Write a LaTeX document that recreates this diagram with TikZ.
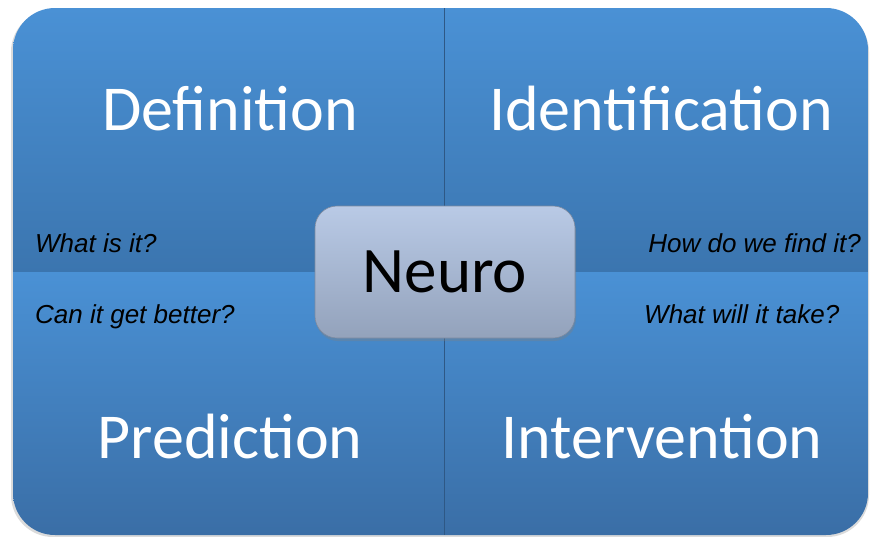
\documentclass[tikz,border=0pt]{standalone}
\usepackage{fontspec}
\setmainfont{Carlito}
\newfontfamily\askfont{Liberation Sans}
\usepackage{xcolor}
\usetikzlibrary{positioning}
\usetikzlibrary{shadows}

\definecolor{quadtop}{HTML}{4A91D5}
\definecolor{quadmid}{HTML}{3B75AF}
\definecolor{quadbot}{HTML}{3A6EA6}
\definecolor{hubtop}{HTML}{B9CAE6}
\definecolor{hubbot}{HTML}{93A2BB}

\begin{document}
\begin{tikzpicture}[x=1pt,y=-1pt]
\useasboundingbox (0,0) rectangle (870,536);
% Define styles
\tikzstyle{title} = [text=white, font=\fontsize{64}{64}\selectfont, anchor=base, inner sep=0pt]
\tikzstyle{ask} = [font=\askfont\itshape\fontsize{26}{26}\selectfont, inner sep=0pt]
\tikzstyle{hub} = [rounded corners=22pt, minimum width=260pt, minimum height=132pt, top color=hubtop, bottom color=hubbot, draw=hubbot!85!black, line width=0.6pt, font=\fontsize{65}{65}\selectfont, drop shadow={opacity=0.35, shadow xshift=1pt, shadow yshift=-3pt}]

% Background quadrants
\fill[black!14, rounded corners=42pt] (11,10) rectangle (869,537);
\begin{scope}
\clip[rounded corners=42pt] (13,8) rectangle (868,535);
\shade[top color=quadtop, bottom color=quadmid] (13,8) rectangle (868,272);
\shade[top color=quadtop, bottom color=quadbot] (13,272) rectangle (868,535);
\draw[quadbot!80!black, line width=0.7pt] (444,8) -- (444,535);
\end{scope}

% Define nodes
\node[title] (definition) at (230,130) {Definition};
\node[title] (identification) at (661,130) {Identification};
\node[title] (prediction) at (230,458) {Prediction};
\node[title] (intervention) at (662,458) {Intervention};
\node[ask, anchor=base west] (what) at (35,252) {What is it?};
\node[ask, anchor=base east] (how) at (861,252) {How do we find it?};
\node[ask, anchor=base west] (better) at (35,323) {Can it get better?};
\node[ask, anchor=base west] (take) at (644,323) {What will it take?};
\node[hub] (neuro) at (445,272) {Neuro};

\end{tikzpicture}
\end{document}
